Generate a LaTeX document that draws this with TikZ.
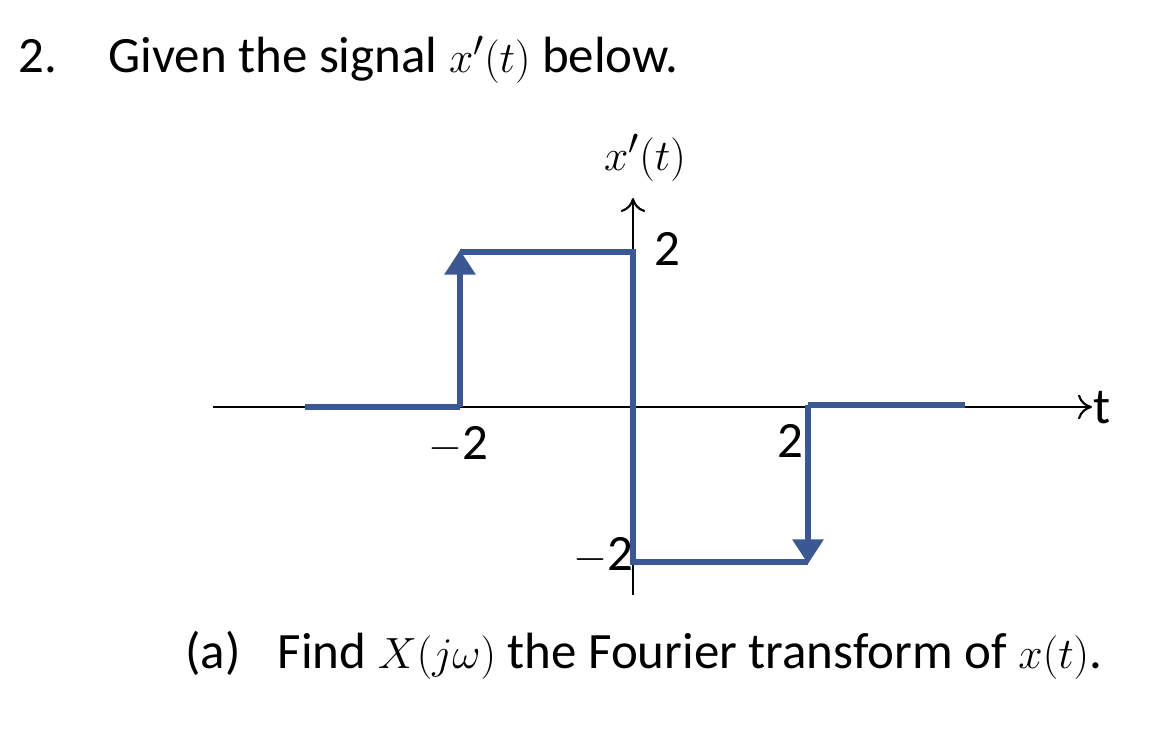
\documentclass[tikz,border=0pt]{standalone}
\usepackage{fontspec}
\setmainfont{Carlito}
\usetikzlibrary{arrows.meta,positioning}
\definecolor{sigblue}{RGB}{59,87,148}
\tikzset{
    txt/.style = {font=\fontsize{29}{34}\selectfont, inner sep=0pt},
    axis/.style = {line width=1.2pt, -{To[length=8pt,width=14pt]}},
    sig/.style = {line width=3.5pt, sigblue},
    sigarrow/.style = {sig, -{Triangle[length=14pt,width=17pt]}}
}
\begin{document}
\begin{tikzpicture}[x=0.02cm, y=-0.02cm]
\useasboundingbox (0,0) rectangle (1174,728);
% text
\node[txt, anchor=base west] (num) at (18,72) {2.};
\node[txt, anchor=base west] (title) at (108,72) {Given the signal $x'(t)$ below.};
\node[txt, anchor=base west] (part) at (185,668) {(a)\hspace{0.5em} Find $X(j\omega)$ the Fourier transform of $x(t)$.};
% axes
\coordinate (xl) at (213,407);
\coordinate (xr) at (1092,407);
\coordinate (yb) at (633,595);
\coordinate (yt) at (633,198);
\draw[axis] (xl) -- (xr);
\draw[axis] (yb) -- (yt);
\node[txt, anchor=west] (tlab) at (1093,408) {t};
\node[txt] (ylab) at (645,158) {$x'(t)$};
% tick
\coordinate (tk1) at (808,415);
\coordinate (tk2) at (808,460);
\draw[line width=1.2pt] (tk1) -- (tk2);
% signal
\coordinate (a0) at (305,407);
\coordinate (a1) at (460,407);
\coordinate (a2) at (460,250);
\coordinate (b1) at (460,252);
\coordinate (b2) at (633,252);
\coordinate (b3) at (633,562);
\coordinate (b4) at (808,562);
\coordinate (c1) at (808,405);
\coordinate (c2) at (808,564);
\coordinate (c3) at (965,405);
\draw[sig] (a0) -- (a1);
\draw[sigarrow] (a1) -- (a2);
\draw[sig, line join=miter] (b1) -- (b2) -- (b3) -- (b4);
\draw[sigarrow] (c1) -- (c2);
\draw[sig] (c1) -- (c3);
% labels
\node[txt] (l1) at (667,249) {2};
\node[txt] (l2) at (458,445) {$-$2};
\node[txt] (l3) at (790,441) {2};
\node[txt] (l4) at (603,556) {$-$2};
\end{tikzpicture}
\end{document}
